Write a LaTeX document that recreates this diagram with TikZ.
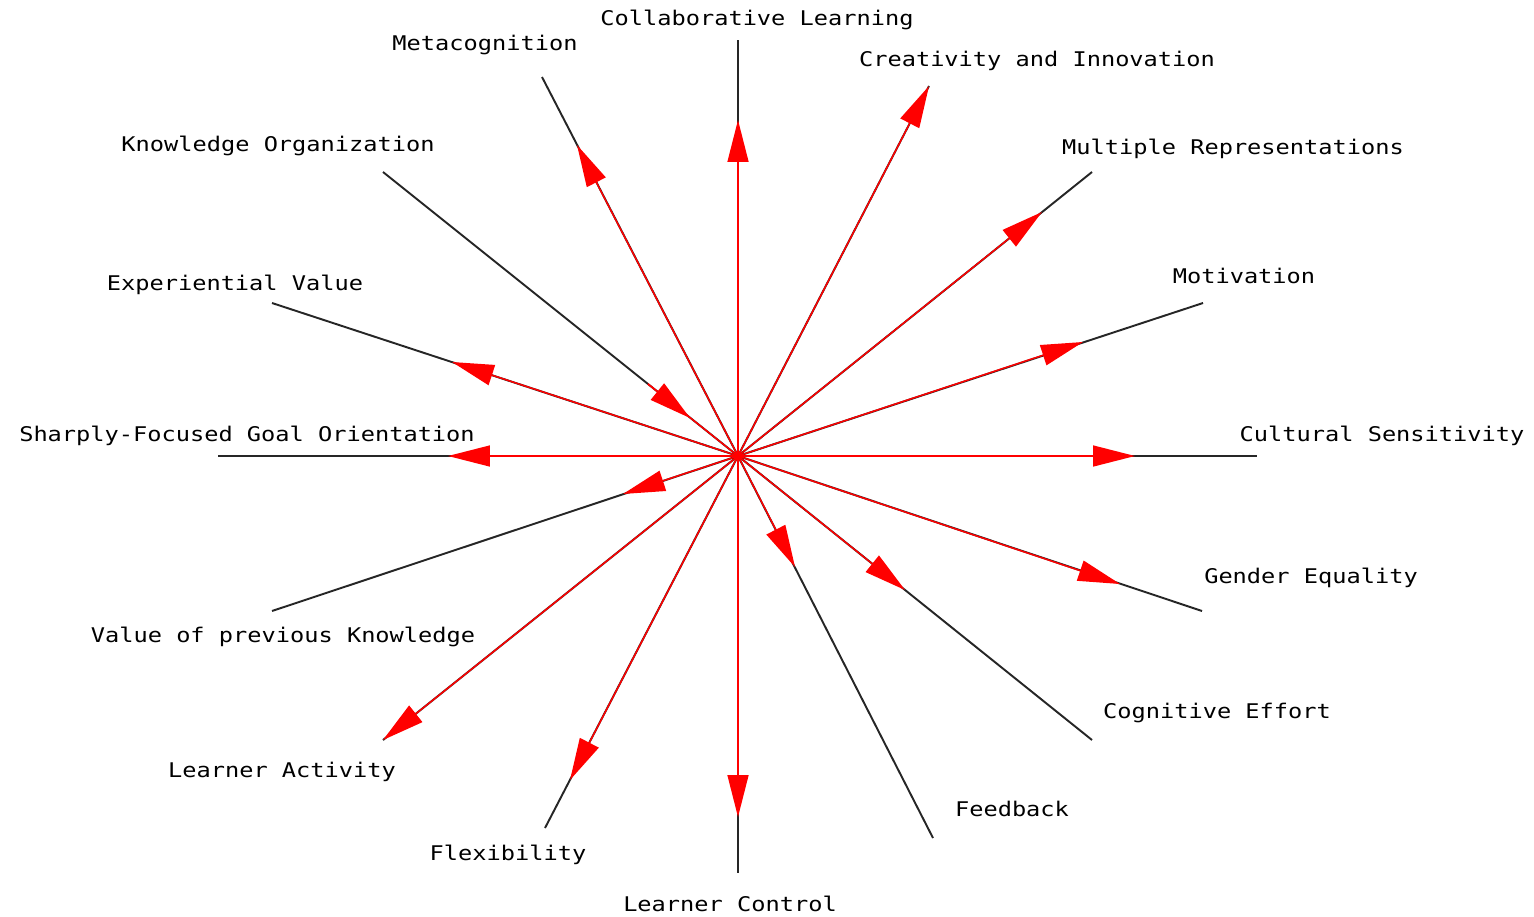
\documentclass[tikz,border=0pt]{standalone}
\usepackage{fontspec}
\newfontfamily\critfont[FakeStretch=1.17]{DejaVu Sans Mono}
\usetikzlibrary{arrows.meta}

\begin{document}
\begin{tikzpicture}[x=0.02cm,y=-0.02cm,>={Triangle[length=0.84cm,width=0.42cm]}]
  \tikzstyle{axis}=[draw=black!85,line width=1.1pt]
  \tikzstyle{ray}=[draw=red,line width=0.85pt]
  \tikzstyle{dir}=[ray,->,fill=red]
  \tikzstyle{crit}=[font=\critfont\fontsize{11.5}{13}\selectfont,inner sep=0pt,anchor=base]
  \useasboundingbox (0,0) rectangle (1534,916);
  \coordinate (c) at (738,456);

  % ends of the axes
  \coordinate (collab) at (738,40);
  \coordinate (creat) at (929,86);
  \coordinate (multi) at (1092,172);
  \coordinate (motiv) at (1203,303);
  \coordinate (cult) at (1257,456);
  \coordinate (gender) at (1202,611);
  \coordinate (cogn) at (1092,740);
  \coordinate (feed) at (933,838);
  \coordinate (lcontrol) at (738,873);
  \coordinate (flex) at (545,828);
  \coordinate (lact) at (383,740);
  \coordinate (prev) at (272,611);
  \coordinate (goal) at (218,456);
  \coordinate (exper) at (272,303);
  \coordinate (korg) at (383,172);
  \coordinate (meta) at (542,77);

  % arrow tips
  \coordinate (collab-t) at (738,120);
  \coordinate (multi-t) at (1042,212);
  \coordinate (motiv-t) at (1083,342);
  \coordinate (cult-t) at (1135,456);
  \coordinate (gender-t) at (1120,584);
  \coordinate (cogn-t) at (905,590);
  \coordinate (feed-t) at (795,567);
  \coordinate (lcontrol-t) at (738,817);
  \coordinate (flex-t) at (570,780);
  \coordinate (prev-t) at (623,494);
  \coordinate (goal-t) at (448,456);
  \coordinate (exper-t) at (452,362);
  \coordinate (korg-s) at (648,384);
  \coordinate (korg-t) at (690,418);
  \coordinate (meta-t) at (577,145);

  \foreach \e in {collab,creat,multi,motiv,cult,gender,cogn,feed,lcontrol,flex,lact,prev,goal,exper,korg,meta}
    \draw [axis] (c) -- (\e);

  \draw [dir] (c) -- (collab-t);
  \draw [dir] (c) -- (creat);
  \draw [dir] (c) -- (multi-t);
  \draw [dir] (c) -- (motiv-t);
  \draw [dir] (c) -- (cult-t);
  \draw [dir] (c) -- (gender-t);
  \draw [dir] (c) -- (cogn-t);
  \draw [dir] (c) -- (feed-t);
  \draw [dir] (c) -- (lcontrol-t);
  \draw [dir] (c) -- (flex-t);
  \draw [dir] (c) -- (lact);
  \draw [dir] (c) -- (prev-t);
  \draw [dir] (c) -- (goal-t);
  \draw [dir] (c) -- (exper-t);
  \draw [ray] (c) -- (korg-s);
  \draw [dir] (korg-s) -- (korg-t);
  \draw [dir] (c) -- (meta-t);
  \fill [red] (c) circle (5);

  \node [crit] (collab-l) at (757,26) {Collaborative Learning};
  \node [crit] (meta-l) at (485,51) {Metacognition};
  \node [crit] (creat-l) at (1037,66) {Creativity and Innovation};
  \node [crit] (korg-l) at (278,151) {Knowledge Organization};
  \node [crit] (multi-l) at (1233,154) {Multiple Representations};
  \node [crit] (exper-l) at (235,290) {Experiential Value};
  \node [crit] (motiv-l) at (1244,283) {Motivation};
  \node [crit] (goal-l) at (247,441) {Sharply-Focused Goal Orientation};
  \node [crit] (cult-l) at (1382,441) {Cultural Sensitivity};
  \node [crit] (gender-l) at (1311,583) {Gender Equality};
  \node [crit] (prev-l) at (283,642) {Value of previous Knowledge};
  \node [crit] (cogn-l) at (1217,718) {Cognitive Effort};
  \node [crit] (lact-l) at (282,777) {Learner Activity};
  \node [crit] (feed-l) at (1012,816) {Feedback};
  \node [crit] (flex-l) at (508,860) {Flexibility};
  \node [crit] (lcontrol-l) at (730,911) {Learner Control};
\end{tikzpicture}
\end{document}
